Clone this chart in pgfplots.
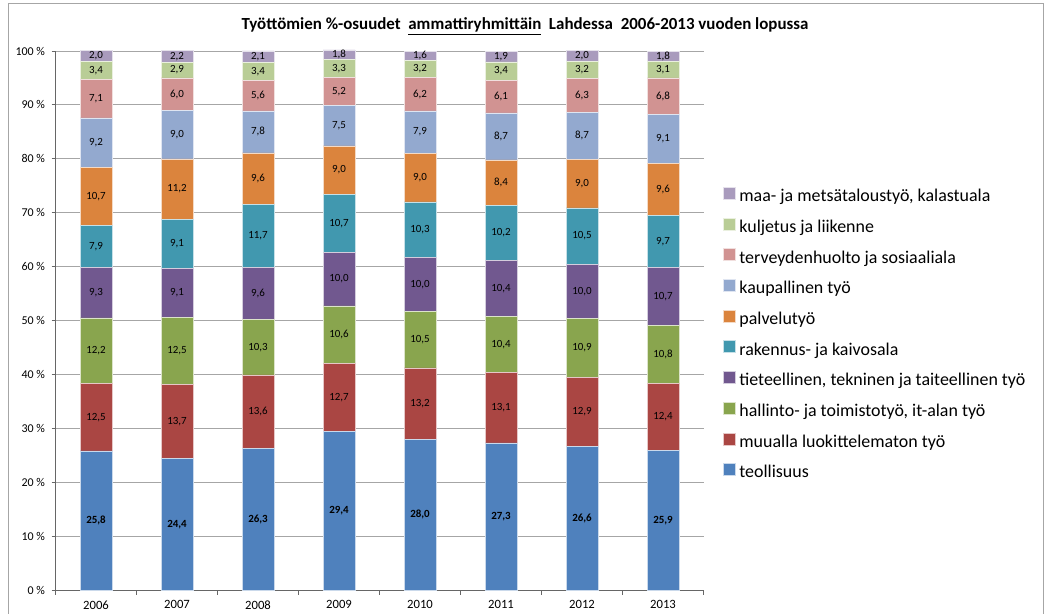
\documentclass[border=0pt]{standalone}
\usepackage{pgfplots}
\pgfplotsset{compat=1.18}
\usepackage{pgfplotstable}
\usepackage{fontspec}
\setmainfont{Carlito}

\definecolor{cTeo}{HTML}{4F81BD}
\definecolor{cMuu}{HTML}{AA4643}
\definecolor{cHal}{HTML}{89A54E}
\definecolor{cTie}{HTML}{71588F}
\definecolor{cRak}{HTML}{4198AF}
\definecolor{cPal}{HTML}{DB843D}
\definecolor{cKau}{HTML}{93A9CF}
\definecolor{cTer}{HTML}{D19392}
\definecolor{cKul}{HTML}{B9CD96}
\definecolor{cMaa}{HTML}{A99BBD}

\pgfplotstableread{
x teo muu hal tie rak pal kau ter kul maa
0 25.8 12.5 12.2 9.3 7.9 10.7 9.2 7.1 3.4 2.0
1 24.4 13.7 12.5 9.1 9.1 11.2 9.0 6.0 2.9 2.2
2 26.3 13.6 10.3 9.6 11.7 9.6 7.8 5.6 3.4 2.1
3 29.4 12.7 10.6 10.0 10.7 9.0 7.5 5.2 3.3 1.8
4 28.0 13.2 10.5 10.0 10.3 9.0 7.9 6.2 3.2 1.6
5 27.3 13.1 10.4 10.4 10.2 8.4 8.7 6.1 3.4 1.9
6 26.6 12.9 10.9 10.0 10.5 9.0 8.7 6.3 3.2 2.0
7 25.9 12.4 10.8 10.7 9.7 9.6 9.1 6.8 3.1 1.8
}\data

\pgfplotsset{
  seg/.style 2 args={fill=#1, draw=white!70!#1, line width=0.4pt,
    visualization depends on={\thisrow{#2}\as\rawy}},
}

\begin{document}
\begin{tikzpicture}
\path[use as bounding box] (0,0) rectangle (1049bp,614bp);
\draw[gray!70, line width=0.8pt] (8bp,-2bp) -- (8bp,611bp) -- (1043bp,611bp) -- (1043bp,-2bp);
\node[font=\fontsize{17}{19}\selectfont\bfseries, anchor=base] at (525bp,584bp)
  {Työttömien \%-osuudet\ \ \underline{ammattiryhmittäin}\ \ Lahdessa\ \ 2006-2013 vuoden lopussa};
\begin{axis}[
  at={(55.5bp,24bp)}, anchor=south west,
  scale only axis, width=648bp, height=539bp,
  ybar stacked, bar width=32bp,
  xmin=-0.5, xmax=7.5, ymin=0, ymax=100,
  enlargelimits=false, clip=false,
  axis x line*=bottom, axis y line*=left,
  axis line style={gray!80!black, line width=0.8pt},
  xtick={0,...,7}, xticklabels={2006,2007,2008,2009,2010,2011,2012,2013},
  major x tick style={draw=none},
  minor xtick={-0.5,0.5,...,7.5},
  minor x tick style={gray!80!black, line width=0.8pt},
  minor tick length=5bp,
  ytick={0,10,...,100},
  yticklabels={0 \%,10 \%,20 \%,30 \%,40 \%,50 \%,60 \%,70 \%,80 \%,90 \%,100 \%},
  major y tick style={gray!80!black, line width=0.8pt},
  major tick length=4bp,
  tick align=outside,
  ymajorgrids, grid style={gray!70, line width=0.8pt},
  xticklabel style={font=\fontsize{12.7}{14}\selectfont, yshift=-3bp},
  yticklabel style={font=\fontsize{12}{14}\selectfont, xshift=-3bp},
  nodes near coords={\pgfmathprintnumber[fixed,fixed zerofill,precision=1,use comma,assume math mode=true]{\rawy}},
  every node near coord/.append style={anchor=center, text=black,
    font=\fontsize{11}{13}\selectfont},
  reverse legend,
  legend cell align=left,
  legend style={at={(1.0301,0.7477)}, anchor=north west, draw=none, fill=none,
    inner sep=0pt, outer sep=0pt,
    nodes={inner sep=0pt, text height=13bp, text depth=4bp},
    font=\fontsize{18}{21}\selectfont, row sep=12bp, column sep=4bp},
  legend image code/.code={\fill[#1] (0bp,-2bp) rectangle (12bp,10bp);},
]
\addplot[seg={cTeo}{teo}, every node near coord/.append style={font=\fontsize{11}{13}\selectfont\bfseries}] table[x=x,y=teo]{\data};
\addplot[seg={cMuu}{muu}] table[x=x,y=muu]{\data};
\addplot[seg={cHal}{hal}] table[x=x,y=hal]{\data};
\addplot[seg={cTie}{tie}] table[x=x,y=tie]{\data};
\addplot[seg={cRak}{rak}] table[x=x,y=rak]{\data};
\addplot[seg={cPal}{pal}] table[x=x,y=pal]{\data};
\addplot[seg={cKau}{kau}] table[x=x,y=kau]{\data};
\addplot[seg={cTer}{ter}] table[x=x,y=ter]{\data};
\addplot[seg={cKul}{kul}] table[x=x,y=kul]{\data};
\addplot[seg={cMaa}{maa}] table[x=x,y=maa]{\data};
\legend{teollisuus, muualla luokittelematon työ, {hallinto- ja toimistotyö, it-alan työ}, {tieteellinen, tekninen ja taiteellinen työ}, rakennus- ja kaivosala, palvelutyö, kaupallinen työ, terveydenhuolto ja sosiaaliala, kuljetus ja liikenne, {maa- ja metsätaloustyö, kalastuala}}
\end{axis}
\end{tikzpicture}
\end{document}
